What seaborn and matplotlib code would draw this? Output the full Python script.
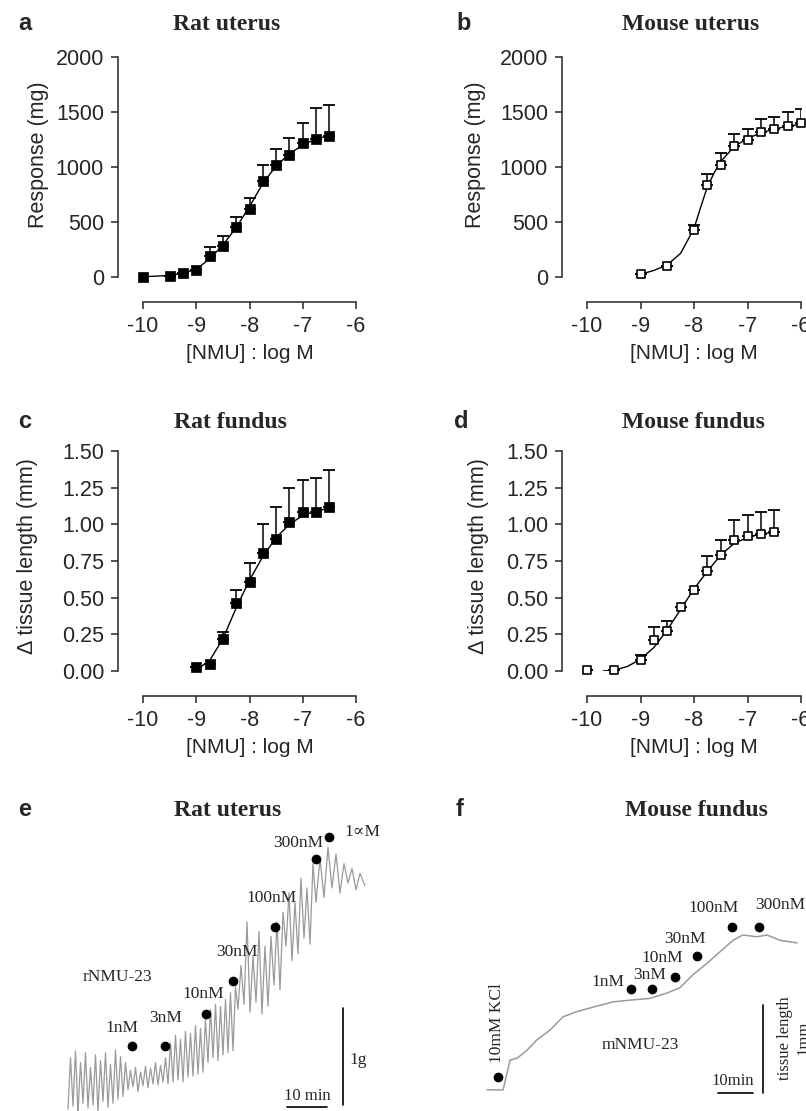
import numpy as np
import matplotlib
matplotlib.use("Agg")
import matplotlib.pyplot as plt
import seaborn as sns

W, H = 806, 1111

# ---- dose-response data (mean, SEM) ----
# a: rat uterus, response in mg
a_x = [-10, -9.5, -9.25, -9, -8.75, -8.5, -8.25, -8, -7.75, -7.5, -7.25, -7, -6.75, -6.5]
a_y = [0, 12, 40, 60, 195, 283, 453, 617, 875, 1021, 1112, 1216, 1258, 1286]
a_sem = [0, 0, 0, 0, 75, 92, 94, 103, 146, 143, 149, 185, 274, 282]
a_fit_x = [-10, -9.5, -9.25, -9, -8.75, -8.5, -8.25, -8, -7.75, -7.5, -7.25, -7, -6.75, -6.5]
a_fit_y = [2, 14, 35, 70, 165, 290, 450, 640, 850, 1010, 1120, 1200, 1255, 1285]

# b: mouse uterus, response in mg
b_x = [-9, -8.5, -8, -7.75, -7.5, -7.25, -7, -6.75, -6.5, -6.25, -6]
b_y = [24, 103, 425, 833, 1018, 1191, 1243, 1322, 1343, 1377, 1398]
b_sem = [0, 0, 46, 100, 107, 110, 107, 113, 110, 121, 128]
b_fit_x = [-9, -8.75, -8.5, -8.25, -8, -7.875, -7.75, -7.625, -7.5, -7.25, -7, -6.75, -6.5, -6.25, -6]
b_fit_y = [24, 60, 110, 215, 440, 635, 820, 945, 1050, 1185, 1260, 1310, 1345, 1370, 1390]

# c: rat fundus, delta tissue length in mm
c_x = [-9, -8.75, -8.5, -8.25, -8, -7.75, -7.5, -7.25, -7, -6.75, -6.5]
c_y = [0.025, 0.05, 0.22, 0.461, 0.605, 0.802, 0.90, 1.018, 1.086, 1.086, 1.116]
c_sem = [0, 0, 0.046, 0.089, 0.134, 0.203, 0.218, 0.232, 0.216, 0.228, 0.254]
c_fit_x = [-8.95, -8.75, -8.5, -8.25, -8, -7.75, -7.5, -7.25, -7, -6.75, -6.5]
c_fit_y = [0.02, 0.07, 0.22, 0.43, 0.62, 0.78, 0.91, 1.0, 1.06, 1.09, 1.11]

# d: mouse fundus, delta tissue length in mm
d_x = [-10, -9.5, -9, -8.75, -8.5, -8.25, -8, -7.75, -7.5, -7.25, -7, -6.75, -6.5]
d_y = [0.005, 0.005, 0.077, 0.214, 0.27, 0.434, 0.55, 0.682, 0.791, 0.891, 0.92, 0.936, 0.945]
d_sem = [0, 0, 0.03, 0.084, 0.071, 0, 0, 0.10, 0.102, 0.136, 0.141, 0.146, 0.15]
d_fit_x = [-9.7, -9.5, -9.25, -9, -8.75, -8.5, -8.25, -8, -7.75, -7.5, -7.25, -7, -6.75, -6.5]
d_fit_y = [0.0, 0.005, 0.03, 0.08, 0.16, 0.28, 0.42, 0.56, 0.68, 0.79, 0.87, 0.91, 0.935, 0.945]

# ---- e: rat uterus trace (minutes, grams), one trough/peak per contraction ----
e_cycle_t = [2.0, 3.25, 4.5, 5.75, 7.0, 8.25, 9.5, 10.75, 12.0, 13.25, 14.5, 15.75,
             17.0, 18.25, 19.5, 20.75, 22.0, 23.25, 24.5, 25.75,
             27.0, 28.25, 29.5, 30.75, 32.0, 33.25, 34.5, 35.75,
             37.0, 38.25, 39.5, 40.75, 42.0, 43.25,
             44.5, 46.0, 47.5, 49.0, 50.5, 52.0,
             53.5, 55.0, 56.5, 58.0, 59.5, 61.0, 62.5,
             64.0, 66.0, 68.0, 70.0, 72.0, 74.0]
e_peak = [0.55, 0.62, 0.50, 0.60, 0.45, 0.58, 0.52, 0.60, 0.48, 0.63, 0.56, 0.50,
          0.42, 0.45, 0.40, 0.46, 0.44, 0.50, 0.47, 0.55,
          0.70, 0.78, 0.74, 0.82, 0.80, 0.88, 0.85, 0.95,
          1.05, 1.10, 1.08, 1.15, 1.22, 1.28,
          1.50, 1.95, 1.60, 1.85, 1.70, 1.80,
          1.95, 2.05, 2.25, 2.15, 2.40, 2.30, 2.55,
          2.60, 2.72, 2.65, 2.55, 2.50, 2.45]
e_trough = [0.02, 0.05, -0.02, 0.08, 0.03, 0.06, -0.01, 0.10, 0.04, 0.08, 0.12, 0.15,
            0.22, 0.25, 0.20, 0.26, 0.24, 0.28, 0.27, 0.30,
            0.28, 0.30, 0.32, 0.30, 0.35, 0.36, 0.38, 0.40,
            0.50, 0.55, 0.52, 0.58, 0.60, 0.62,
            1.05, 1.10, 1.02, 1.12, 1.00, 1.08,
            1.30, 1.25, 1.70, 1.55, 1.62, 1.78, 1.72,
            2.15, 2.20, 2.30, 2.25, 2.35, 2.28]
e_doses = ["1nM", "3nM", "10nM", "30nM", "100nM", "300nM", "1\u221dM"]
e_dose_t = [18.0, 26.25, 36.5, 43.25, 53.75, 64.0, 67.25]
e_dose_g = [0.67, 0.67, 1.0, 1.34, 1.90, 2.60, 2.82]
e_label_t = [15.5, 26.5, 35.75, 44.25, 53.0, 59.5, 75.5]
e_label_g = [0.86, 0.96, 1.21, 1.64, 2.20, 2.76, 2.88]

# ---- f: mouse fundus trace (minutes, mm) ----
f_t = [2.0, 6.6, 8.6, 10.6, 13.4, 16.3, 20.0, 23.7, 27.7, 32.3, 38.0, 42.9, 48.6,
       53.4, 57.1, 60.9, 64.9, 68.6, 72.3, 75.1, 79.1, 82.0, 85.7, 90.6]
f_mm = [0.24, 0.24, 0.58, 0.60, 0.69, 0.81, 0.92, 1.07, 1.13, 1.18, 1.24, 1.26, 1.28,
        1.34, 1.40, 1.55, 1.68, 1.81, 1.94, 2.00, 1.98, 2.00, 1.94, 1.91]
f_doses = ["1nM", "3nM", "10nM", "30nM", "100nM", "300nM"]
f_dose_t = [43.1, 49.1, 55.7, 62.0, 72.0, 79.7]
f_dose_mm = [1.39, 1.39, 1.52, 1.76, 2.09, 2.09]
f_label_t = [36.6, 48.6, 52.0, 58.6, 66.6, 85.7]
f_label_mm = [1.47, 1.55, 1.74, 1.95, 2.31, 2.34]

sns.set_style("ticks")
plt.rcParams['font.family'] = ['Liberation Sans', 'DejaVu Sans']
plt.rcParams['axes.linewidth'] = 1.1

fig = plt.figure(figsize=(W / 100, H / 100), dpi=100)
serif = ['Liberation Serif', 'DejaVu Serif']


def px_axes(x0, y0, x1, y1):
    return fig.add_axes([x0 / W, 1 - y1 / H, (x1 - x0) / W, (y1 - y0) / H])


def px_text(x, y, s, **kw):
    fig.text(x / W, 1 - y / H, s, ha='center', va='center', **kw)


def dose_panel(ax, x, y, sem, fit_x, fit_y, filled, ymax, yticks, ylabel, lpad, ly):
    ax.errorbar(x, y, yerr=[np.zeros(len(sem)), sem], fmt='none', ecolor='black',
                elinewidth=1.1, capsize=4.5, capthick=1.3, zorder=2)
    sns.lineplot(x=fit_x, y=fit_y, ax=ax, color='black', lw=1.0, zorder=3)
    if filled:
        sns.scatterplot(x=x, y=y, ax=ax, marker='s', s=58, color='black',
                        edgecolor='black', linewidth=0.5, zorder=4, clip_on=False)
    else:
        sns.scatterplot(x=x, y=y, ax=ax, marker='s', s=38, color='white',
                        edgecolor='black', linewidth=1.2, zorder=4, clip_on=False)
    ax.set_xlim(-10, -6)
    ax.set_ylim(0, ymax)
    ax.set_xticks([-10, -9, -8, -7, -6])
    ax.set_xticklabels(['-10', '-9', '-8', '-7', '-6'])
    ax.set_yticks(yticks)
    sns.despine(ax=ax, offset=18)
    ax.tick_params(length=5, width=1.1, labelsize=15.5, pad=5)
    ax.set_xlabel('[NMU] : log M', fontsize=15, labelpad=5)
    ax.set_ylabel(ylabel, fontsize=15.5, labelpad=lpad)
    ax.yaxis.label.set_y(ly)


ax_a = px_axes(143, 57, 356, 277)
dose_panel(ax_a, a_x, a_y, a_sem, a_fit_x, a_fit_y, True, 2000,
           [0, 500, 1000, 1500, 2000], 'Response (mg)', 4.5, 0.555)
ax_b = px_axes(587, 57, 801, 277)
dose_panel(ax_b, b_x, b_y, b_sem, b_fit_x, b_fit_y, False, 2000,
           [0, 500, 1000, 1500, 2000], 'Response (mg)', 10, 0.555)

t_ticks = [0, 0.25, 0.5, 0.75, 1.0, 1.25, 1.5]
ax_c = px_axes(143, 451, 356, 671)
dose_panel(ax_c, c_x, c_y, c_sem, c_fit_x, c_fit_y, True, 1.5, t_ticks,
           '\u0394 tissue length (mm)', 17, 0.523)
ax_d = px_axes(587, 451, 801, 671)
dose_panel(ax_d, d_x, d_y, d_sem, d_fit_x, d_fit_y, False, 1.5, t_ticks,
           '\u0394 tissue length (mm)', 12, 0.523)
for ax in (ax_c, ax_d):
    ax.set_yticklabels(['%.2f' % v for v in t_ticks])

# ---- e: trace ----
ax_e = px_axes(60, 820, 380, 1111)
half = np.diff(e_cycle_t) / 2
half = np.append(half, half[-1])
tr_t, tr_g = [], []
for t0, h, pk, lo in zip(e_cycle_t, half, e_peak, e_trough):
    tr_t += [t0, t0 + h]
    tr_g += [lo, pk]
tr_t.append(76.25)
tr_g.append(2.32)
sns.lineplot(x=tr_t, y=tr_g, ax=ax_e, sort=False, estimator=None,
             color='#9a9a9a', lw=0.9)
sns.scatterplot(x=e_dose_t, y=e_dose_g, ax=ax_e, s=42, color='black',
                edgecolor='black', zorder=5)
for lab, tx, ty in zip(e_doses, e_label_t, e_label_g):
    ax_e.text(tx, ty, lab, ha='center', va='center', fontsize=12.5, family=serif)
ax_e.text(14.25, 1.38, 'rNMU-23', ha='center', va='center', fontsize=12.5, family=serif)
ax_e.plot([70.75, 70.75], [0.06, 1.06], color='black', lw=1.2)
ax_e.text(74.5, 0.53, '1g', ha='center', va='center', fontsize=12.5, family=serif)
ax_e.plot([56.75, 66.75], [0.04, 0.04], color='black', lw=1.2)
ax_e.text(61.75, 0.155, '10 min', ha='center', va='center', fontsize=12, family=serif)
ax_e.set_xlim(0, 80)
ax_e.set_ylim(0, 3.0)
ax_e.axis('off')

# ---- f: trace ----
ax_f = px_axes(480, 820, 806, 1111)
sns.lineplot(x=f_t, y=f_mm, ax=ax_f, sort=False, estimator=None,
             color='#9a9a9a', lw=1.1)
sns.scatterplot(x=[5.14] + f_dose_t, y=[0.39] + f_dose_mm, ax=ax_f, s=42,
                color='black', edgecolor='black', zorder=5)
for lab, tx, ty in zip(f_doses, f_label_t, f_label_mm):
    ax_f.text(tx, ty, lab, ha='center', va='center', fontsize=12.5, family=serif)
ax_f.text(4.9, 1.0, '10mM KCl', ha='center', va='center', rotation=90,
          fontsize=12.5, family=serif)
ax_f.text(45.7, 0.75, 'mNMU-23', ha='center', va='center', fontsize=12.5, family=serif)
ax_f.plot([80.9, 80.9], [0.2, 1.2], color='black', lw=1.2)
ax_f.plot([68.0, 78.0], [0.2, 0.2], color='black', lw=1.2)
ax_f.text(72.3, 0.34, '10min', ha='center', va='center', fontsize=12, family=serif)
ax_f.text(87.1, 0.83, 'tissue length', ha='center', va='center', rotation=90,
          fontsize=12, family=serif)
ax_f.text(92.3, 0.83, '1mm', ha='center', va='center', rotation=90,
          fontsize=12, family=serif, clip_on=False)
ax_f.set_xlim(0, 326 / 3.5)
ax_f.set_ylim(0, 291 / 88)
ax_f.axis('off')

# ---- panel letters and titles ----
letters = ['a', 'b', 'c', 'd', 'e', 'f']
letter_pos = [(25, 23), (464, 23), (25, 422), (461, 422), (25, 810), (460, 810)]
titles = ['Rat uterus', 'Mouse uterus', 'Rat fundus', 'Mouse fundus', 'Rat uterus', 'Mouse fundus']
title_pos = [(227, 25), (691, 25), (230, 422), (693, 422), (228, 810), (696, 810)]
for s, (x, y) in zip(letters, letter_pos):
    px_text(x, y, s, fontsize=17, fontweight='bold')
for s, (x, y) in zip(titles, title_pos):
    px_text(x, y, s, fontsize=17, fontweight='bold', family=serif)

fig.savefig('out.png', dpi=100)
